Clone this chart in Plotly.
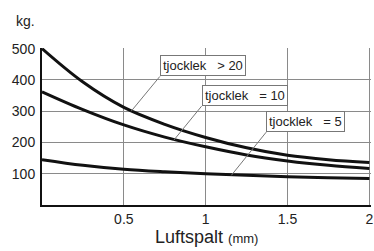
import plotly.graph_objects as go

# Data
gap_mm = [0, 0.25, 0.5, 0.75, 1.0, 1.25, 1.5, 1.75, 2.0]
kg_gt20 = [500, 393, 312, 258, 216, 183, 159, 145, 136]
kg_eq10 = [362, 305, 256, 217, 186, 160, 141, 127, 117]
kg_eq5 = [145, 127, 114, 106, 100, 95, 90, 87, 85]

series_names = ["tjocklek\u00a0\u00a0\u00a0> 20", "tjocklek\u00a0\u00a0\u00a0= 10", "tjocklek\u00a0\u00a0\u00a0= 5"]
series_values = [kg_gt20, kg_eq10, kg_eq5]
# label anchor (box bottom-left) and leader end on the curve, in data units
label_box = [(0.72, 411), (0.975, 316), (1.37, 233)]
label_tip = [(0.545, 300), (0.805, 207), (1.157, 95)]

x_ticks = [0.5, 1, 1.5, 2]
x_ticktext = ["0.5", "1", "1.5", "2"]
y_ticks = [100, 200, 300, 400, 500]

FONT = "Liberation Sans, Arial, sans-serif"

fig = go.Figure()
for name, vals in zip(series_names, series_values):
    fig.add_trace(go.Scatter(
        x=gap_mm, y=vals, mode="lines", name=name,
        line=dict(color="#111111", width=3, shape="spline", smoothing=1.0),
        showlegend=False, hoverinfo="skip"))

annotations = []
for name, (bx, by), (tx, ty) in zip(series_names, label_box, label_tip):
    annotations.append(dict(
        x=tx, y=ty, xref="x", yref="y", ax=bx, ay=by, axref="x", ayref="y",
        text=name, showarrow=True, arrowhead=0, arrowwidth=1, arrowcolor="#777777",
        xanchor="left", yanchor="bottom",
        font=dict(family=FONT, size=13, color="#222222"),
        bgcolor="white", bordercolor="#777777", borderwidth=1, borderpad=2))

annotations.append(dict(
    x=-0.05, y=1.17, xref="paper", yref="paper", xanchor="center", yanchor="middle",
    text="kg.", showarrow=False,
    font=dict(family=FONT, size=14, color="#222222")))
annotations.append(dict(
    x=0.5, y=-0.125, xref="paper", yref="paper", showarrow=False,
    xanchor="center", yanchor="top",
    text="Luftspalt <span style='font-size:13px'>(mm)</span>",
    font=dict(family=FONT, size=18, color="#222222")))

fig.update_layout(
    width=374, height=251,
    margin=dict(l=42, r=1, t=48, b=46),
    paper_bgcolor="white", plot_bgcolor="white",
    font=dict(family=FONT, size=14, color="#222222"),
    xaxis=dict(range=[0, 2.01], tickvals=x_ticks, ticktext=x_ticktext,
               showgrid=True, gridcolor="#8a8a8a", gridwidth=1,
               showline=True, linecolor="#111111", linewidth=2,
               ticks="", zeroline=False, tickfont=dict(size=14),
               ticklabeloverflow="allow"),
    yaxis=dict(range=[0, 502], tickvals=y_ticks,
               showgrid=True, gridcolor="#8a8a8a", gridwidth=1,
               showline=True, linecolor="#111111", linewidth=2,
               ticks="outside", ticklen=2, tickcolor="rgba(0,0,0,0)",
               zeroline=False, tickfont=dict(size=14)),
    annotations=annotations,
)

fig.write_html("out.html", config={"displayModeBar": False},
               post_script="document.body.style.margin='0';document.body.style.overflow='hidden';")
